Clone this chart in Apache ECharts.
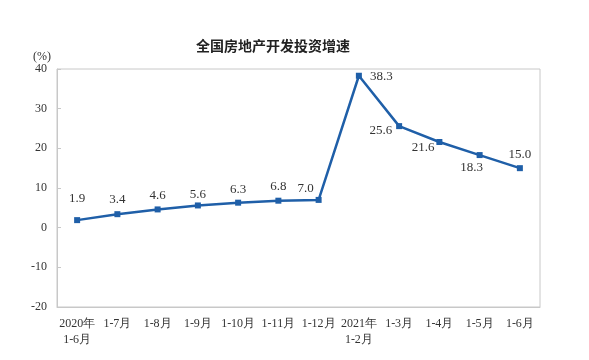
<!DOCTYPE html>
<html><head><meta charset="utf-8">
<script src="https://cdn.jsdelivr.net/npm/echarts@6/dist/echarts.min.js"></script>
<style>html,body{margin:0;padding:0;background:#fff}#c{width:589px;height:360px}</style>
</head><body><div id="c"></div>
<script>
const categories = ['2020年\n1-6月','1-7月','1-8月','1-9月','1-10月','1-11月','1-12月','2021年\n1-2月','1-3月','1-4月','1-5月','1-6月'];
const values = [1.9, 3.4, 4.6, 5.6, 6.3, 6.8, 7.0, 38.3, 25.6, 21.6, 18.3, 15.0];
const yTicks = {min: -20, max: 40, interval: 10};

const serif = '"Liberation Serif","DejaVu Serif",serif';
const labelCfg = [
  {position: 'top', distance: 12},
  {position: 'top', distance: 5},
  {position: 'top', distance: 4},
  {position: 'top', distance: 1},
  {position: 'top', distance: 4},
  {position: 'top', distance: 5},
  {position: 'top', distance: 2, offset: [-13, 0]},
  {position: 'right', distance: 8, offset: [0, 1]},
  {position: 'left', distance: 4, offset: [0, 4]},
  {position: 'left', distance: 2, offset: [0, 6]},
  {position: 'bottom', distance: 3, offset: [-8, 0]},
  {position: 'top', distance: 4}
];
const chart = echarts.init(document.getElementById('c'));
const data = values.map((v, i) => ({value: v, label: labelCfg[i]}));
chart.setOption({
  animation: false,
  title: {text: '全国房地产开发投资增速', left: 268, top: 34, textAlign: 'center',
    textStyle: {fontFamily: '"Noto Sans CJK SC",sans-serif', fontSize: 14, fontWeight: 'bold', color: '#222'}},
  grid: {left: 57, right: 49, top: 69, bottom: 53, show: true, borderColor: '#c8c8c8', borderWidth: 1},
  xAxis: {type: 'category', data: categories, boundaryGap: true,
    axisLine: {onZero: false, lineStyle: {color: '#c8c8c8'}},
    axisTick: {inside: true, length: 4, lineStyle: {color: '#c8c8c8'}},
    axisLabel: {fontFamily: serif, fontSize: 12, color: '#333', lineHeight: 16, margin: 9, interval: 0}},
  yAxis: {type: 'value', min: yTicks.min, max: yTicks.max, interval: yTicks.interval,
    name: '(%)', nameLocation: 'end', nameGap: 6, nameTextStyle: {fontFamily: serif, fontSize: 12, color: '#333', align: 'right', padding: [0, 6, 0, 0]},
    splitLine: {show: false},
    axisLine: {show: true, lineStyle: {color: '#c8c8c8'}},
    axisTick: {show: true, inside: true, length: 4, lineStyle: {color: '#c8c8c8'}},
    axisLabel: {fontFamily: serif, fontSize: 12, color: '#333', margin: 10}},
  series: [{type: 'line', data: data, symbol: 'rect', symbolSize: 6,
    lineStyle: {color: '#1f5fa8', width: 2.5}, itemStyle: {color: '#1f5fa8'},
    label: {show: true, fontFamily: serif, fontSize: 13, color: '#333',
      formatter: p => p.value.toFixed(1)}}]
});
</script></body></html>
